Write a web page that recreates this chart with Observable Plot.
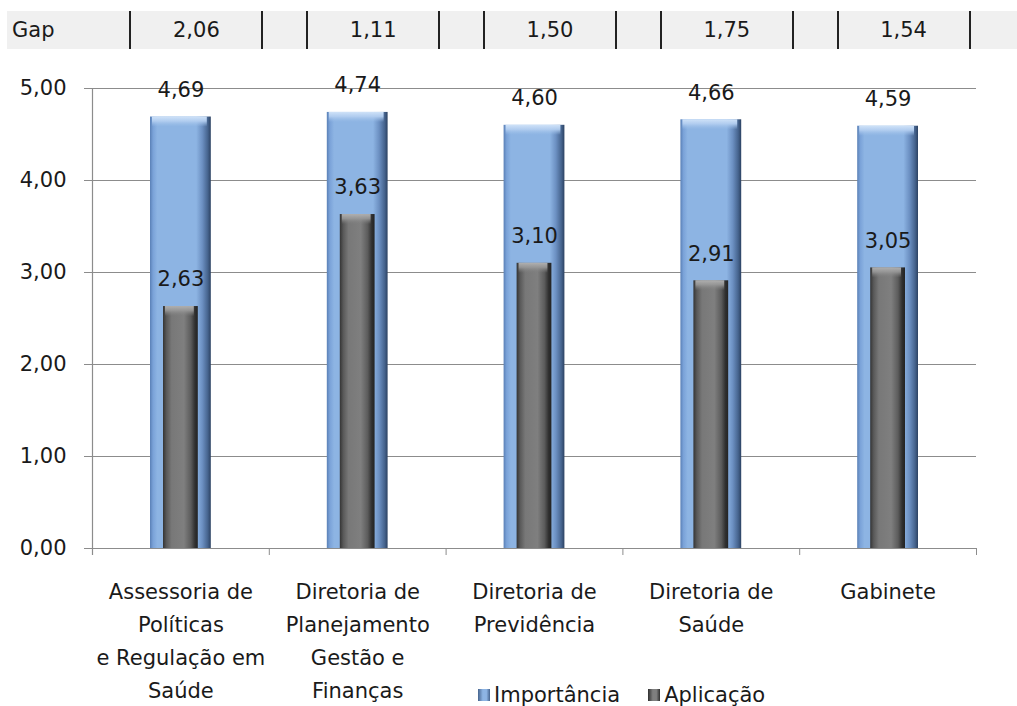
<!DOCTYPE html>
<html>
<head>
<meta charset="utf-8">
<script src="https://cdn.jsdelivr.net/npm/d3@7"></script>
<script src="https://cdn.jsdelivr.net/npm/@observablehq/plot@0.6"></script>
<style>
  html, body { margin: 0; padding: 0; background: #fff; }
  #wrap { position: relative; width: 1017px; height: 706px; font-family: "DejaVu Sans", sans-serif; color: #1a1a1a; }
  #gapRow { position: absolute; top: 11px; left: 7px; right: 0; height: 38px; background: #f0f0f0; font-size: 21px; }
  #gapRow .lbl { position: absolute; left: 5px; top: 0; line-height: 38px; }
  #gapRow .cell { position: absolute; top: 0; height: 38px; line-height: 38px; text-align: center;
                  border-left: 2px solid #222; border-right: 2px solid #222; box-sizing: border-box; }
  #legend { position: absolute; top: 682px; left: 478px; display: flex; gap: 28px; font-size: 21px; line-height: 26px; }
  #legend .item { display: flex; align-items: center; gap: 4px; }
  #legend .sw { width: 12px; height: 12px; display: inline-block; }
</style>
</head>
<body>
<div id="wrap"></div>
<script>
// Departments compared
const categories = [
  "Assessoria de\nPolíticas\ne Regulação em\nSaúde",
  "Diretoria de\nPlanejamento\nGestão e\nFinanças",
  "Diretoria de\nPrevidência",
  "Diretoria de\nSaúde",
  "Gabinete"
];
// Average scores per department
const importancia = [4.69, 4.74, 4.60, 4.66, 4.59];
const aplicacao = [2.63, 3.63, 3.10, 2.91, 3.05];
// Difference Importância − Aplicação
const gap = [2.06, 1.11, 1.50, 1.75, 1.54];
const yTicks = [0, 1, 2, 3, 4, 5];
const seriesNames = ["Importância", "Aplicação"];

const fmt = v => v.toFixed(2).replace(".", ",");
const rows = categories.map((cat, i) => ({i, cat, imp: importancia[i], apl: aplicacao[i]}));
const n = categories.length;
const bevel = 0.11;
const font = "'DejaVu Sans', sans-serif";

const plot = Plot.plot({
  width: 1017,
  height: 706,
  marginTop: 88,
  marginBottom: 158,
  marginLeft: 92,
  marginRight: 41,
  style: {fontFamily: font, fontSize: "21px", color: "#1a1a1a", background: "transparent", overflow: "visible"},
  x: {type: "linear", domain: [0, n], axis: null},
  y: {domain: [0, 5], axis: null},
  marks: [
    // horizontal gridlines
    Plot.ruleY(yTicks.filter(d => d > 0), {stroke: "#8c8c8c", strokeWidth: 1.2}),
    // value axis
    Plot.axisY({ticks: yTicks, tickSize: 8, tickPadding: 18, tickFormat: fmt, stroke: "#8c8c8c", strokeOpacity: 1, fill: "#1a1a1a", fontSize: 21}),
    // category axis ticks on band boundaries
    Plot.axisX({ticks: d3.range(1, n + 1), tickSize: 7, tickFormat: () => "", stroke: "#8c8c8c", strokeOpacity: 1}),
    Plot.ruleY([0], {stroke: "#8c8c8c", strokeWidth: 1.2}),
    Plot.ruleX([0], {stroke: "#8c8c8c", strokeWidth: 1.2, insetBottom: -7}),
    // Importância bars
    Plot.rectY(rows, {x1: d => d.i, x2: d => d.i + 1, y1: 0, y2: "imp", insetLeft: 58, insetRight: 58, fill: "url(#gImp)"}),
    Plot.rectY(rows, {x1: d => d.i, x2: d => d.i + 1, y1: d => d.imp - bevel, y2: "imp", insetLeft: 60, insetRight: 62, fill: "url(#gImpTop)"}),
    // Aplicação bars
    Plot.rectY(rows, {x1: d => d.i, x2: d => d.i + 1, y1: 0, y2: "apl", insetLeft: 71, insetRight: 71, fill: "url(#gApl)"}),
    Plot.rectY(rows, {x1: d => d.i, x2: d => d.i + 1, y1: d => d.apl - bevel, y2: "apl", insetLeft: 73, insetRight: 75, fill: "url(#gAplTop)"}),
    // value labels
    Plot.text(rows, {x: d => d.i + 0.5, y: "imp", text: d => fmt(d.imp), dy: -27, fill: "#1a1a1a", fontSize: 21}),
    Plot.text(rows, {x: d => d.i + 0.5, y: "apl", text: d => fmt(d.apl), dy: -27, fill: "#1a1a1a", fontSize: 21}),
    // category labels
    Plot.text(rows, {x: d => d.i + 0.5, y: 0, text: "cat", lineAnchor: "top", dy: 27, lineHeight: 1.57, fill: "#1a1a1a", fontSize: 21})
  ]
});

// bar shading
const svg = d3.select(plot);
const defs = svg.insert("defs", ":first-child");
function hGrad(id, stops) {
  const g = defs.append("linearGradient").attr("id", id).attr("x1", "0").attr("x2", "1").attr("y1", "0").attr("y2", "0");
  stops.forEach(([o, c]) => g.append("stop").attr("offset", o).attr("stop-color", c));
}
function vGrad(id, stops) {
  const g = defs.append("linearGradient").attr("id", id).attr("x1", "0").attr("x2", "0").attr("y1", "0").attr("y2", "1");
  stops.forEach(([o, c, a]) => g.append("stop").attr("offset", o).attr("stop-color", c).attr("stop-opacity", a));
}
hGrad("gImp", [[0, "#5a80b6"], [0.05, "#7aa2d8"], [0.12, "#8db4e3"], [0.76, "#8db4e3"], [0.86, "#6c90c2"], [0.95, "#46648e"], [1, "#2c4262"]]);
hGrad("gApl", [[0, "#343434"], [0.1, "#595959"], [0.25, "#787878"], [0.6, "#7f7f7f"], [0.8, "#5c5c5c"], [0.92, "#303030"], [1, "#232323"]]);
vGrad("gImpTop", [[0, "#cfe2f8", 1], [0.45, "#b3cef0", 0.95], [1, "#9dbfe8", 0]]);
vGrad("gAplTop", [[0, "#b0b0b0", 1], [0.45, "#989898", 0.9], [1, "#808080", 0]]);

const wrap = document.getElementById("wrap");
wrap.appendChild(plot);

// gap row above the chart, one cell per department
const xs = plot.scale("x");
const gapRow = d3.select(wrap).append("div").attr("id", "gapRow");
gapRow.append("div").attr("class", "lbl").text("Gap");
const cellW = 134;
gap.forEach((g, i) => {
  const cx = xs.apply(i + 0.5) + 16 - 7;
  gapRow.append("div").attr("class", "cell")
    .style("left", (cx - cellW / 2) + "px")
    .style("width", cellW + "px")
    .text(fmt(g));
});

// legend
const legend = d3.select(wrap).append("div").attr("id", "legend");
const swatches = ["linear-gradient(90deg,#46648e,#8db4e3 40%,#8db4e3 70%,#46648e)", "linear-gradient(90deg,#303030,#7f7f7f 40%,#7f7f7f 70%,#303030)"];
seriesNames.forEach((s, i) => {
  const it = legend.append("div").attr("class", "item");
  it.append("span").attr("class", "sw").style("background", swatches[i]);
  it.append("span").text(s);
});
</script>
</body>
</html>
